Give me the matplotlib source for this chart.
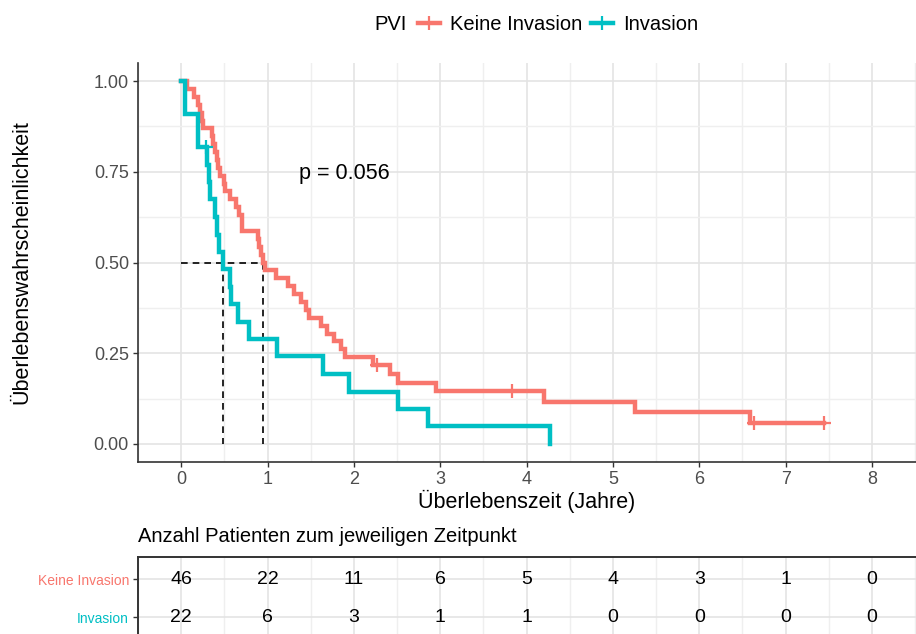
import numpy as np
import matplotlib
matplotlib.use("Agg")
import matplotlib.pyplot as plt
from matplotlib.lines import Line2D

plt.rcParams['font.family'] = ['Liberation Sans', 'DejaVu Sans']

# Kaplan-Meier step data (time in years, survival probability)
keine_t = [0, 0.07, 0.15, 0.20, 0.22, 0.24, 0.25, 0.355, 0.37, 0.39, 0.41, 0.43,
           0.45, 0.50, 0.51, 0.57, 0.63, 0.665, 0.70, 0.71, 0.89, 0.905, 0.93,
           0.95, 0.97, 1.10, 1.235, 1.31, 1.39, 1.445, 1.48, 1.62, 1.69, 1.77,
           1.85, 1.90, 2.22, 2.42, 2.51, 2.95, 4.20, 5.25, 6.59]
keine_s = [1.000, 0.978, 0.957, 0.935, 0.913, 0.891, 0.870, 0.848, 0.826, 0.804,
           0.783, 0.761, 0.739, 0.717, 0.696, 0.674, 0.652, 0.630, 0.609, 0.587,
           0.565, 0.543, 0.522, 0.500, 0.478, 0.457, 0.435, 0.413, 0.391, 0.370,
           0.348, 0.326, 0.304, 0.283, 0.261, 0.239, 0.217, 0.193, 0.169, 0.145,
           0.116, 0.087, 0.058]
keine_end = 7.45
keine_censor = [2.27, 3.83, 6.63, 7.45]

inv_t = [0, 0.05, 0.20, 0.30, 0.32, 0.33, 0.39, 0.41, 0.44, 0.48, 0.56, 0.58,
         0.66, 0.79, 1.11, 1.64, 1.94, 2.51, 2.86, 4.27]
inv_s = [1.000, 0.909, 0.818, 0.770, 0.722, 0.674, 0.626, 0.577, 0.529, 0.481,
         0.433, 0.385, 0.337, 0.289, 0.241, 0.193, 0.144, 0.096, 0.048, 0.000]
inv_end = 4.27
inv_censor = [0.29]

median_keine = 0.95
median_inv = 0.48
p_text = "p = 0.056"

# Number at risk table
risk_times = [0, 1, 2, 3, 4, 5, 6, 7, 8]
risk_keine = [46, 22, 11, 6, 5, 4, 3, 1, 0]
risk_inv = [22, 6, 3, 1, 1, 0, 0, 0, 0]

groups = ["Keine Invasion", "Invasion"]
colors = ["#F8766D", "#00BFC4"]

W, H = 916, 634
fig = plt.figure(figsize=(W / 100, H / 100), dpi=100)

def fx(px):
    return px / W

def fy(py):
    return 1 - py / H

ax = fig.add_axes([fx(138), fy(462), fx(916 - 138), (462 - 63) / H])
axr = fig.add_axes([fx(138), 0, fx(916 - 138), (634 - 557) / H])

xlim = (-0.413, 8.51)
ax.set_xlim(*xlim)
ax.set_ylim(-0.05, 1.05)

grid_major = "#E4E4E4"
grid_minor = "#EFEFEF"
axis_col = "#333333"
tick_col = "#4D4D4D"
curve_lw = 3.2

ax.set_xticks(np.arange(0, 9, 1))
ax.set_xticks(np.arange(-0.5, 9, 0.5), minor=True)
ax.set_yticks([0, 0.25, 0.5, 0.75, 1.0])
ax.set_yticklabels(["0.00", "0.25", "0.50", "0.75", "1.00"])
ax.set_yticks(np.arange(0.125, 1.0, 0.25), minor=True)
ax.grid(True, which="major", color=grid_major, lw=1.2, zorder=0)
ax.grid(True, which="minor", color=grid_minor, lw=1.0, zorder=0)
ax.set_axisbelow(True)
for s in ["top", "right"]:
    ax.spines[s].set_visible(False)
for s in ["left", "bottom"]:
    ax.spines[s].set_color(axis_col)
    ax.spines[s].set_linewidth(1.2)
ax.tick_params(which="major", length=3.5, width=1, color=axis_col,
               labelsize=13, labelcolor=tick_col, pad=3)
ax.tick_params(which="minor", length=0)

ax.set_xlabel("Überlebenszeit (Jahre)", fontsize=15.5, labelpad=1)
ax.set_ylabel("Überlebenswahrscheinlichkeit", fontsize=15.5)
ax.yaxis.set_label_coords((32 - 138) / 778, 0.5)

# median survival reference lines
mmax = max(median_keine, median_inv)
ax.plot([0, mmax], [0.5, 0.5], ls=(0, (4, 3)), color="black", lw=1.2, zorder=2)
for m in (median_keine, median_inv):
    ax.plot([m, m], [0.5, 0], ls=(0, (4, 3)), color="black", lw=1.2, zorder=2)

def draw_curve(t, s, end, censor, color):
    tt = list(t)
    ss = list(s)
    if end > tt[-1]:
        tt.append(end)
        ss.append(ss[-1])
    ax.step(tt, ss, where="post", color=color, lw=curve_lw, zorder=3,
            solid_joinstyle="miter")
    idx = np.searchsorted(np.array(t), np.array(censor), side="right") - 1
    cy = np.array(s)[idx]
    ax.plot(censor, cy, ls="none", marker="+", ms=10, mew=1.6, color=color,
            zorder=4)

draw_curve(keine_t, keine_s, keine_end, keine_censor, colors[0])
draw_curve(inv_t, inv_s, inv_end, inv_censor, colors[1])

ax.text(1.36, 0.745, p_text, fontsize=15.5, va="center", ha="left")

# legend across the top
fig.text(fx(407), fy(25), "PVI", fontsize=14.5, ha="right", va="center")
handles = [Line2D([], [], color=c, lw=curve_lw, marker="+", ms=10, mew=1.6)
           for c in colors]
fig.legend(handles, groups, ncol=2, frameon=False, fontsize=14.5,
           loc="center left", bbox_to_anchor=(fx(418), fy(25)),
           borderpad=0, borderaxespad=0, handlelength=1.1, handletextpad=0.5,
           columnspacing=0.4)

# risk table
axr.set_xlim(*xlim)
axr.set_ylim(0.553, 2.579)
axr.set_xticks(np.arange(0, 9, 1))
axr.set_xticks(np.arange(-0.5, 9, 0.5), minor=True)
axr.set_yticks([1, 2])
axr.set_yticklabels(groups[::-1])
axr.grid(True, which="major", color=grid_major, lw=1.2, zorder=0)
axr.grid(True, which="minor", axis="x", color=grid_minor, lw=1.0, zorder=0)
axr.set_axisbelow(True)
for s in ["right", "bottom"]:
    axr.spines[s].set_visible(False)
for s in ["left", "top"]:
    axr.spines[s].set_color(axis_col)
    axr.spines[s].set_linewidth(1.4)
axr.tick_params(axis="x", which="both", length=0, labelbottom=False)
axr.tick_params(axis="y", length=3.5, width=1, color=axis_col, labelsize=10, pad=3)
for lab, c in zip(axr.get_yticklabels(), colors[::-1]):
    lab.set_color(c)
for xt, a, b in zip(risk_times, risk_keine, risk_inv):
    axr.text(xt, 2, str(a), ha="center", va="center", fontsize=14)
    axr.text(xt, 1, str(b), ha="center", va="center", fontsize=14)

fig.text(fx(138), fy(537), "Anzahl Patienten zum jeweiligen Zeitpunkt",
         fontsize=14.5, ha="left", va="center")

fig.savefig("out.png", dpi=100)
